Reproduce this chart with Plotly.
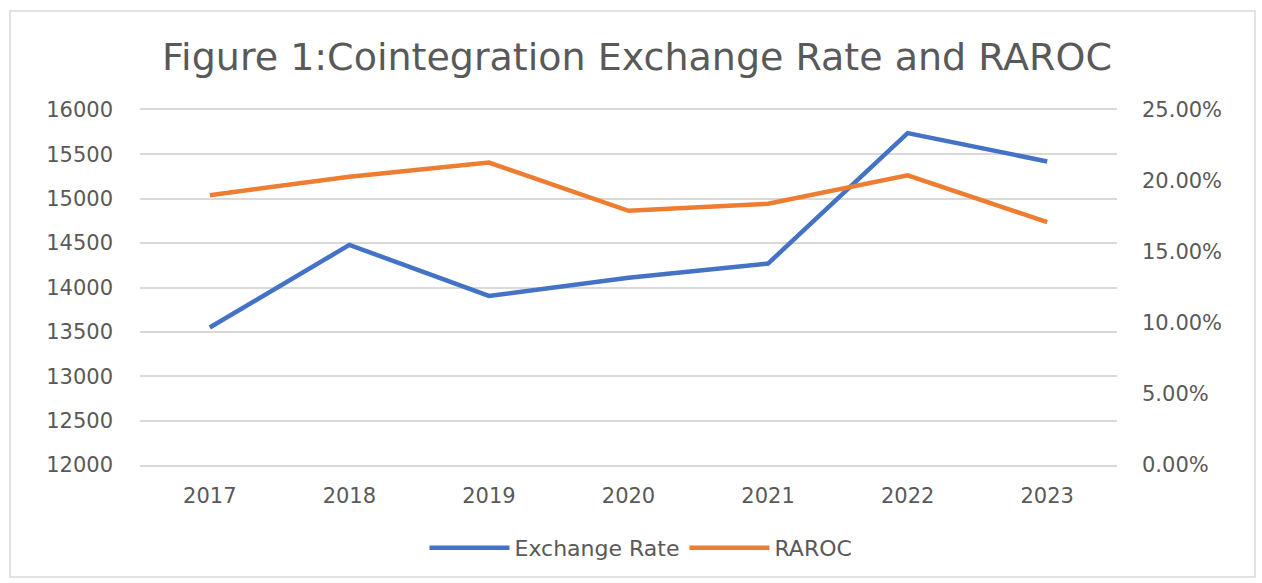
import plotly.graph_objects as go

years = ["2017", "2018", "2019", "2020", "2021", "2022", "2023"]
exchange_rate = [13550, 14480, 13905, 14110, 14270, 15740, 15420]
raroc = [0.190, 0.203, 0.213, 0.179, 0.184, 0.204, 0.171]

title_text = "Figure 1:Cointegration Exchange Rate and RAROC"

W, H = 1262, 583
L, R, T, B = 140, 145, 110, 118
pw, ph = W - L - R, H - T - B

def px_x(x):
    return (x - L) / pw

def px_y(y):
    return (H - B - y) / ph

grey = "#595959"
grid = "#d9d9d9"
font_family = "DejaVu Sans"

fig = go.Figure()
fig.add_trace(go.Scatter(x=years, y=exchange_rate, name="Exchange Rate", mode="lines",
                         line=dict(color="#4472C4", width=4.5), yaxis="y"))
fig.add_trace(go.Scatter(x=years, y=raroc, name="RAROC", mode="lines",
                         line=dict(color="#ED7D31", width=4.5), yaxis="y2"))

fig.update_layout(
    width=W, height=H,
    margin=dict(l=L, r=R, t=T, b=B, pad=0),
    paper_bgcolor="white", plot_bgcolor="white",
    font=dict(family=font_family, color=grey, size=21),
    title=dict(text=title_text, x=px_x(637), xref="paper", xanchor="center",
               y=1 - 57 / H, yref="container", yanchor="middle",
               font=dict(family=font_family, size=38, color=grey)),
    xaxis=dict(type="category", range=[-0.5, 6.5], showgrid=False,
               showline=True, mirror=True, linecolor=grid, linewidth=2,
               ticks="", tickfont=dict(size=21, color=grey), ticklabelstandoff=11),
    yaxis=dict(range=[12000, 16000], dtick=500, tick0=12000, tickformat="d",
               showgrid=True, gridcolor=grid, gridwidth=2, zeroline=False, showline=False,
               ticks="", tickfont=dict(size=21, color=grey), ticklabelstandoff=26),
    yaxis2=dict(range=[0, 0.25], dtick=0.05, tick0=0, tickformat=".2%",
                overlaying="y", side="right", showgrid=False, zeroline=False,
                showline=False, ticks="", tickfont=dict(size=21, color=grey),
                ticklabelstandoff=24),
    legend=dict(orientation="h", x=px_x(641), xanchor="center", y=px_y(548),
                yanchor="middle", font=dict(size=22, color=grey),
                itemwidth=80, bgcolor="rgba(0,0,0,0)"),
    showlegend=True,
)

fig.add_shape(type="rect", xref="paper", yref="paper",
              x0=px_x(10), x1=px_x(1255), y0=px_y(577), y1=px_y(11),
              line=dict(color=grid, width=1.5), fillcolor="rgba(0,0,0,0)", layer="below")

fig.write_html("out.html")
